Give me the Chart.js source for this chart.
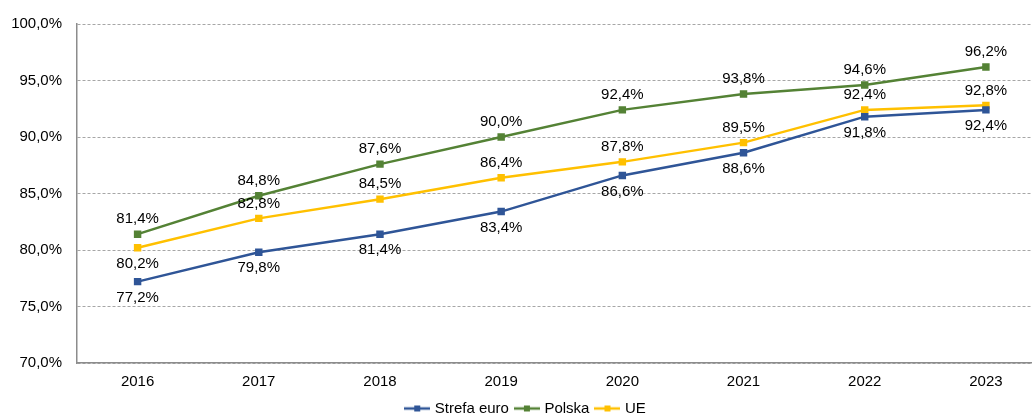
<!DOCTYPE html>
<html>
<head>
<meta charset="utf-8">
<script src="https://cdn.jsdelivr.net/npm/chart.js@4/dist/chart.umd.min.js"></script>
<style>
html, body { margin:0; padding:0; background:#fff; overflow:hidden; }
#wrap { width:1053px; height:426px; position:relative; }
</style>
</head>
<body>
<div id="wrap"><canvas id="lineChart"></canvas></div>
<script>
const years = ['2016','2017','2018','2019','2020','2021','2022','2023'];
const strefaEuro = [77.2, 79.8, 81.4, 83.4, 86.6, 88.6, 91.8, 92.4];
const polska = [81.4, 84.8, 87.6, 90.0, 92.4, 93.8, 94.6, 96.2];
const ue = [80.2, 82.8, 84.5, 86.4, 87.8, 89.5, 92.4, 92.8];
const yTicks = [70, 75, 80, 85, 90, 95, 100];

const fmt = v => v.toFixed(1).replace('.', ',') + '%';
const font = 'Liberation Sans, Arial, sans-serif';

// small legend marker: line with a square in the middle
function marker(color){
  const c = document.createElement('canvas');
  c.width = 26; c.height = 8;
  const g = c.getContext('2d');
  g.strokeStyle = color; g.lineWidth = 2.5;
  g.beginPath(); g.moveTo(0,4); g.lineTo(26,4); g.stroke();
  g.fillStyle = color; g.fillRect(10,1,6,6);
  return c;
}

/* value labels, drawn at the points the library placed */
const valueLabels = {
  id: 'valueLabels',
  afterDatasetsDraw(chart){
    const c = chart.ctx;
    c.save();
    c.font = '15px ' + font;
    c.fillStyle = '#000';
    c.textAlign = 'center';
    c.textBaseline = 'middle';
    chart.data.datasets.forEach((ds, di) => {
      chart.getDatasetMeta(di).data.forEach((pt, i) => {
        let below = ds.label === 'Strefa euro' || (ds.label === 'UE' && i === 0);
        c.fillText(fmt(ds.data[i]), pt.x, below ? pt.y + 16 : pt.y - 15);
      });
    });
    c.restore();
  }
};

const colors = { euro:'#2F5597', pl:'#548235', ue:'#FFC000' };

new Chart(document.getElementById('lineChart'), {
  type: 'line',
  data: {
    labels: years,
    datasets: [
      { label:'Strefa euro', data:strefaEuro, borderColor:colors.euro, backgroundColor:colors.euro, borderWidth:2.5, pointStyle:'rect', pointRadius:3.5, tension:0 },
      { label:'Polska', data:polska, borderColor:colors.pl, backgroundColor:colors.pl, borderWidth:2.5, pointStyle:'rect', pointRadius:3.5, tension:0 },
      { label:'UE', data:ue, borderColor:colors.ue, backgroundColor:colors.ue, borderWidth:2.5, pointStyle:'rect', pointRadius:3.5, tension:0 }
    ]
  },
  options: {
    responsive: true,
    maintainAspectRatio: false,
    animation: false,
    layout: { padding: { top: 23, right: 0, left: 0, bottom: 0 } },
    plugins: {
      tooltip: { enabled:false },
      legend: {
        position: 'bottom',
        labels: {
          usePointStyle: true,
          generateLabels(chart){
            return chart.data.datasets.map((ds, i) => ({
              text: ds.label,
              pointStyle: marker(ds.borderColor),
              fillStyle: ds.borderColor,
              strokeStyle: ds.borderColor,
              lineWidth: 0,
              hidden: false,
              datasetIndex: i,
              fontColor: '#000'
            }));
          },
          pointStyleWidth: 20,
          boxHeight: 8,
          padding: 8,
          color: '#000',
          font: { family: font, size: 15 }
        }
      }
    },
    scales: {
      x: {
        offset: true,
        afterFit(axis){ axis.height = axis.height - 8; },
        grid: { display:false, drawTicks:false, offset:true },
        border: { color:'#8C8C8C', width:1.5 },
        ticks: { color:'#000', padding:10, font:{ family:font, size:15 } }
      },
      y: {
        min: 70, max: 100,
        afterBuildTicks(axis){ axis.ticks = yTicks.map(v => ({ value:v })); },
        afterFit(axis){ axis.width = 77; },
        grid: { color:'#A6A6A6', drawTicks:false, lineWidth:1 },
        border: { color:'#8C8C8C', width:1.5, dash:[3,2] },
        ticks: { color:'#000', padding:15, font:{ family:font, size:15 }, callback: v => fmt(v) }
      }
    }
  },
  plugins: [valueLabels]
});
</script>
</body>
</html>
